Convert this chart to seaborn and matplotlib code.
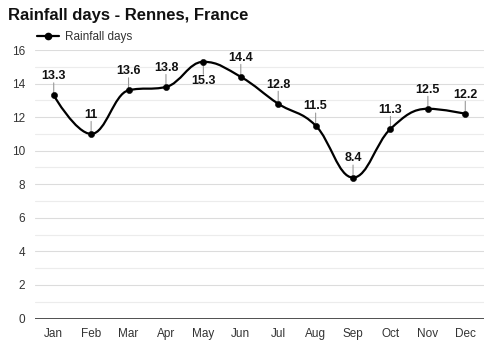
import matplotlib
matplotlib.use("Agg")
import matplotlib.pyplot as plt
import seaborn as sns
import numpy as np
import pandas as pd
from matplotlib.path import Path
from matplotlib.patches import PathPatch
from matplotlib.lines import Line2D

months = ["Jan", "Feb", "Mar", "Apr", "May", "Jun", "Jul", "Aug", "Sep", "Oct", "Nov", "Dec"]
rain_days = [13.3, 11, 13.6, 13.8, 15.3, 14.4, 12.8, 11.5, 8.4, 11.3, 12.5, 12.2]
label_below = [False, False, False, False, True, False, False, False, False, False, False, False]
y_ticks = [0, 2, 4, 6, 8, 10, 12, 14, 16]

sns.set_theme(style="white")
plt.rcParams['font.family'] = ['Liberation Sans', 'DejaVu Sans']

df = pd.DataFrame({"month": months, "days": rain_days, "x": np.arange(len(months))})

fig = plt.figure(figsize=(5, 3.5), dpi=100)
ax = fig.add_axes([0.07, 0.09, 0.898, 0.767])

for v in range(0, 17):
    ax.axhline(v, color="#ececec" if v % 2 else "#dcdcdc", lw=0.8, zorder=0)
ax.axhline(0, color="#333333", lw=1.2, zorder=1)


def spline_path(xs, ys, smoothing=1.5):
    denom = smoothing + 1
    n = len(xs)
    lc = [None] * n
    rc = [None] * n
    for i in range(1, n - 1):
        px, py = xs[i], ys[i]
        lx, ly = xs[i - 1], ys[i - 1]
        nx, ny = xs[i + 1], ys[i + 1]
        lcx = (smoothing * px + lx) / denom
        lcy = (smoothing * py + ly) / denom
        rcx = (smoothing * px + nx) / denom
        rcy = (smoothing * py + ny) / denom
        corr = ((rcy - lcy) * (rcx - px)) / (rcx - lcx) + py - rcy
        lcy += corr
        rcy += corr
        if lcy > ly and lcy > py:
            lcy = max(ly, py)
            rcy = 2 * py - lcy
        elif lcy < ly and lcy < py:
            lcy = min(ly, py)
            rcy = 2 * py - lcy
        if rcy > ny and rcy > py:
            rcy = max(ny, py)
            lcy = 2 * py - rcy
        elif rcy < ny and rcy < py:
            rcy = min(ny, py)
            lcy = 2 * py - rcy
        lc[i] = (lcx, lcy)
        rc[i] = (rcx, rcy)
    lc[0] = rc[0] = (xs[0], ys[0])
    lc[-1] = rc[-1] = (xs[-1], ys[-1])
    verts = [(xs[0], ys[0])]
    codes = [Path.MOVETO]
    for i in range(1, n):
        verts += [rc[i - 1], lc[i], (xs[i], ys[i])]
        codes += [Path.CURVE4] * 3
    return Path(verts, codes)


path = spline_path(list(df["x"].astype(float)), list(df["days"]))
ax.add_patch(PathPatch(path, facecolor="none", edgecolor="black", lw=1.6, zorder=3))

sns.scatterplot(data=df, x="x", y="days", color="black", s=20, zorder=4, ax=ax, legend=False, edgecolor="black")

for xi, yi, below in zip(df["x"], df["days"], label_below):
    lbl = f"{yi:g}"
    sgn = -1 if below else 1
    ax.annotate("", xy=(xi, yi), xytext=(0, sgn * 9), textcoords="offset points",
                arrowprops=dict(arrowstyle="-", color="#999999", lw=0.8, shrinkA=0, shrinkB=2), zorder=2)
    ax.annotate(lbl, xy=(xi, yi), xytext=(0, sgn * 9.5), textcoords="offset points",
                ha="center", va="top" if below else "bottom", fontsize=9, fontweight="bold", color="#111111")

ax.set_xlim(-0.5, 11.5)
ax.set_ylim(0, 16)
ax.set_xticks(df["x"])
ax.set_xticklabels(months)
ax.set_yticks(y_ticks)
ax.tick_params(axis="both", labelsize=8.5, colors="#333333", length=0, pad=7)
ax.set_xlabel("")
ax.set_ylabel("")
for s in ax.spines.values():
    s.set_visible(False)

fig.text(0.016, 0.955, "Rainfall days - Rennes, France", fontsize=12, fontweight="bold",
         color="#111111", ha="left", va="center")

h = Line2D([0], [0], color="black", lw=1.6, marker="o", markersize=4.5)
fig.legend([h], ["Rainfall days"], loc="center left", bbox_to_anchor=(0.074, 0.893),
           frameon=False, fontsize=8.5, handlelength=1.9, handletextpad=0.5, borderpad=0,
           borderaxespad=0, labelcolor="#333333")

fig.savefig("out.png", dpi=100, facecolor="white")
